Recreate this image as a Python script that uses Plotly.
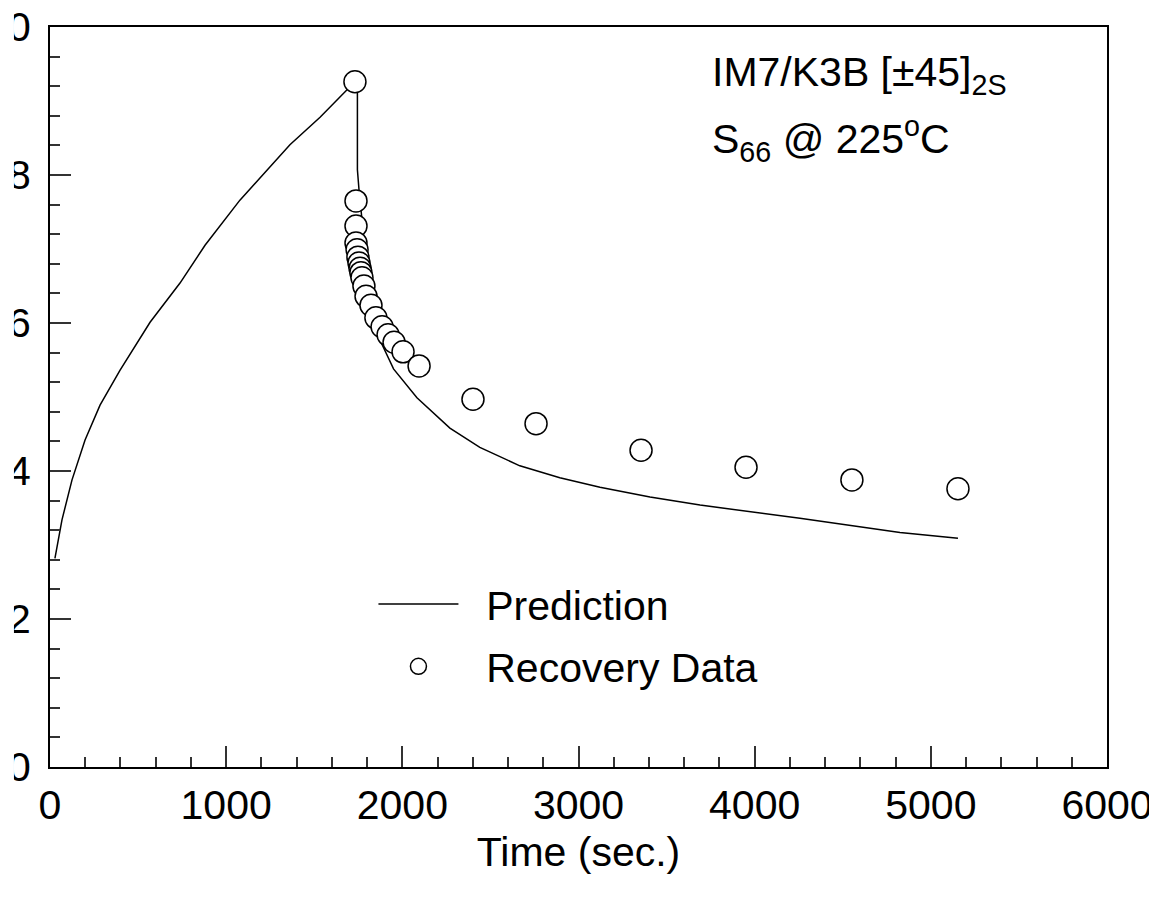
import plotly.graph_objects as go

# Prediction curve (loading then recovery)
pred_time = [28, 68, 125, 199, 284, 397, 568, 738, 880, 1078, 1362, 1533, 1731,
             1745, 1745, 1754, 1788, 1828, 1873, 1950, 2083, 2270, 2440, 2667,
             2894, 3122, 3406, 3690, 4257, 4825, 5154]
pred_value = [2.82, 3.34, 3.88, 4.42, 4.89, 5.36, 6.01, 6.54, 7.05, 7.66, 8.41, 8.78, 9.26,
              9.12, 8.07, 7.80, 6.99, 6.31, 5.77, 5.38, 4.99, 4.58, 4.32, 4.07,
              3.91, 3.78, 3.65, 3.54, 3.36, 3.17, 3.09]

# Recovery data
rec_time = [1731, 1737, 1737, 1737, 1743, 1748, 1754, 1760, 1765, 1771, 1782, 1794,
            1822, 1850, 1885, 1919, 1953, 2004, 2095, 2401, 2759, 3355, 3951, 4552, 5154]
rec_value = [9.26, 7.65, 7.31, 7.08, 6.99, 6.89, 6.81, 6.74, 6.68, 6.61, 6.50, 6.36,
             6.24, 6.07, 5.95, 5.84, 5.74, 5.61, 5.42, 4.97, 4.64, 4.28, 4.05, 3.88, 3.76]

x_ticks = [0, 1000, 2000, 3000, 4000, 5000, 6000]
y_ticks = [0, 2, 4, 6, 8, 10]

FONT = "Arial, Liberation Sans, sans-serif"
FS = 41

fig = go.Figure()
fig.add_trace(go.Scatter(
    x=pred_time, y=pred_value, mode="lines", name="\u00a0\u00a0Prediction",
    line=dict(color="black", width=1.5), legendgroup="a"))
fig.add_trace(go.Scatter(
    x=rec_time, y=rec_value, mode="markers", name="\u00a0\u00a0Recovery Data",
    marker=dict(symbol="circle", size=22, color="white",
                line=dict(color="black", width=1.5)), legendgroup="b"))

axis_common = dict(showgrid=False, zeroline=False, showline=True, linecolor="black",
                   linewidth=2, mirror=True, ticks="inside", ticklen=21, tickwidth=1.5,
                   tickcolor="#333", automargin=False, ticklabeloverflow="allow",
                   tickfont=dict(family=FONT, size=FS, color="black"))

fig.update_xaxes(range=[0, 6000], tickvals=x_ticks, ticklabelstandoff=1,
                 minor=dict(ticks="inside", ticklen=10, tickwidth=1.5, tickcolor="#333", dtick=200),
                 title=dict(text="Time (sec.)", font=dict(family=FONT, size=FS, color="black"), standoff=10),
                 **axis_common)
fig.update_yaxes(range=[0, 10], tickvals=y_ticks, ticklabelstandoff=9,
                 minor=dict(ticks="inside", ticklen=10, tickwidth=1.5, tickcolor="#333", dtick=0.4),
                 **axis_common)

fig.add_annotation(xref="paper", yref="paper", x=0.624, y=0.935, xanchor="left", yanchor="middle",
                   text="IM7/K3B [±45]<sub>2S</sub>", showarrow=False,
                   font=dict(family=FONT, size=FS, color="black"))
fig.add_annotation(xref="paper", yref="paper", x=0.624, y=0.849, xanchor="left", yanchor="middle",
                   text="S<sub>66</sub> @ 225<sup>o</sup>C", showarrow=False,
                   font=dict(family=FONT, size=FS, color="black"))

# left edge crop of the tick labels (as in the reference image)
fig.add_shape(type="rect", xref="paper", yref="paper", x0=-0.06, x1=-0.0341, y0=-0.3, y1=1.1,
              fillcolor="white", line=dict(width=0), layer="above")

fig.update_layout(
    width=1149, height=895,
    margin=dict(l=42, r=50, t=19, b=136, autoexpand=False),
    paper_bgcolor="white", plot_bgcolor="white",
    font=dict(family=FONT, size=FS, color="black"),
    showlegend=True,
    legend=dict(x=0.306, y=0.265, xanchor="left", yanchor="top", bgcolor="rgba(0,0,0,0)",
                font=dict(family=FONT, size=FS, color="black"), itemwidth=80,
                tracegroupgap=6, traceorder="grouped"),
)

fig.write_html("out.html")
